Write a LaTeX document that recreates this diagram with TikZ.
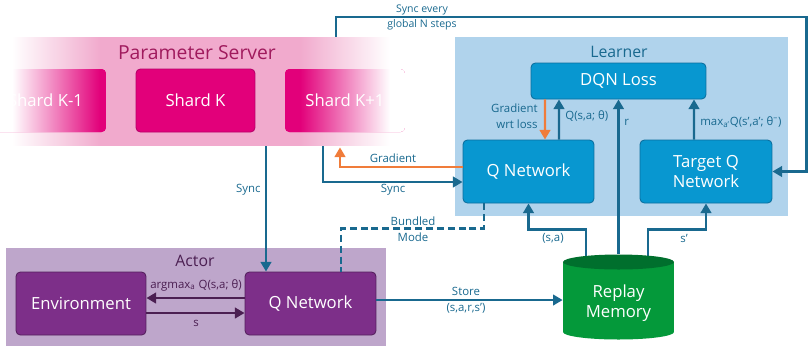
\documentclass[tikz,border=0pt]{standalone}
\usepackage{fontspec}
\setmainfont{Open Sans}
\usetikzlibrary{arrows.meta,calc}

\definecolor{psband}{HTML}{F1AACD}
\definecolor{psshard}{HTML}{E2007A}
\definecolor{psline}{HTML}{B8006A}
\definecolor{pstext}{HTML}{A01A5D}
\definecolor{lrnbg}{HTML}{B0D3EC}
\definecolor{lrnblue}{HTML}{0897D0}
\definecolor{lrnline}{HTML}{0B6F9F}
\definecolor{wireblue}{HTML}{19698F}
\definecolor{gradorange}{HTML}{F07C3A}
\definecolor{actbg}{HTML}{BEA6CB}
\definecolor{actpurple}{HTML}{7D2F89}
\definecolor{actline}{HTML}{55205E}
\definecolor{actdark}{HTML}{4B1F52}
\definecolor{memgreen}{HTML}{04993A}
\definecolor{memtop}{HTML}{006F2D}

% the server band and its outer shards wash out to white at both ends
\pgfdeclarehorizontalshading{bandfade}{100bp}{color(0bp)=(white); color(26.5bp)=(white);
  color(37.8bp)=(psband); color(63.3bp)=(psband); color(74.7bp)=(white); color(100bp)=(white)}
\pgfdeclarehorizontalshading{shardfadein}{100bp}{color(0bp)=(white); color(36.2bp)=(white);
  color(72.5bp)=(psshard); color(100bp)=(psshard)}
\pgfdeclarehorizontalshading{shardfadeout}{100bp}{color(0bp)=(psshard); color(31.25bp)=(psshard);
  color(68.75bp)=(white); color(100bp)=(white)}

\tikzset{
  >={Triangle[length=5.5pt,width=6pt]},
  box/.style={rectangle, rounded corners=2.5pt, text=white, minimum height=1.26cm,
    align=center, line width=0.5pt, font=\fontsize{9.5}{11}\selectfont},
  shard/.style={box, fill=psshard, draw=psline, minimum width=2.4cm},
  netbox/.style={box, fill=lrnblue, draw=lrnline, minimum width=2.62cm},
  purplebox/.style={box, fill=actpurple, draw=actline, minimum width=2.62cm},
  title/.style={inner sep=0pt, font=\fontsize{9}{11}\selectfont},
  wire/.style={draw=wireblue, line width=1.4pt},
  grad/.style={draw=gradorange, line width=1.4pt},
  actwire/.style={draw=actdark, line width=1.4pt},
  bundled/.style={dash pattern=on 4pt off 2.2pt},
  lbl/.style={inner sep=0pt, text=wireblue, align=center, font=\fontsize{6.5}{9}\selectfont}
}

\begin{document}
\begin{tikzpicture}[x=0.02cm, y=-0.02cm]
  \useasboundingbox (0,0) rectangle (808,346);

  % learner and actor areas
  \fill[lrnbg] (455,37) rectangle (788,216);
  \fill[actbg] (6,248) rectangle (386,346);

  % parameter server with its shards
  \node[shade, shading=bandfade, inner sep=0pt, minimum width=7.84cm, minimum height=2.18cm] (ps) at (196,91.5) {};
  \node[title, text=pstext, font=\fontsize{11}{13}\selectfont] (pstitle) at (197,53) {Parameter Server};
  \node[shard, draw=none, shade, shading=shardfadein, minimum width=2.42cm] (shardA) at (45.5,100.5) {Shard K-1};
  \node[shard, minimum width=2.38cm] (shardB) at (195.5,100.5) {Shard K};
  \node[shard, draw=none, shade, shading=shardfadeout] (shardC) at (345,100.5) {Shard K+1};

  % learner
  \node[title, text=wireblue] (lrntitle) at (619,52) {Learner};
  \node[netbox, minimum width=3.5cm, minimum height=0.72cm] (dqn) at (618.5,81) {DQN Loss};
  \node[netbox] (qlearn) at (528.5,171.5) {Q Network};
  \node[netbox, minimum width=2.64cm] (target) at (706,171.5) {Target Q\\Network};

  % actor
  \node[title, text=actdark] (acttitle) at (195,261) {Actor};
  \node[purplebox, minimum width=2.6cm] (env) at (81,303.5) {Environment};
  \node[purplebox] (qact) at (310.5,303.5) {Q Network};

  % replay memory (cylinder drawn later over the line ends)
  \node[inner sep=0pt, minimum width=2.22cm, minimum height=1.72cm] (mem) at (618.5,297) {};

  % server <-> learner
  \draw[wire,->] ($(ps.north)+(140,0)$) |- ($(target.east)+(34,-154.5)$) |- (target.east);
  \draw[wire,->] ($(ps.south)+(127,0)$) |- ($(qlearn.west)+(0,10.5)$);
  \draw[grad,->] ($(qlearn.west)+(0,-4.5)$) -| ($(ps.south)+(144,1)$);
  % server -> actor, and bundled mode
  \draw[wire,->] ($(ps.south)+(70,0)$) -- ($(qact.north)+(-44.5,0)$);
  \draw[wire,bundled] ($(qlearn.south)+(-44.5,0)$) |- ($(qact.north)+(30.5,-43)$) -- ($(qact.north)+(30.5,0)$);

  % inside the learner
  \draw[grad,->] ($(dqn.south)+(-73.5,0)$) -- ($(qlearn.north)+(16.5,0)$);
  \draw[wire,->] ($(qlearn.north)+(30.5,0)$) -- ($(dqn.south)+(-59.5,0)$);
  \draw[wire,->] (mem.north) -- (dqn.south);
  \draw[wire,->] ($(target.north)+(-12,0)$) -- ($(dqn.south)+(75.5,0)$);
  \draw[wire,->] ($(mem.north)+(-32.5,10)$) |- ($(qlearn.south)+(0,26)$) -- (qlearn.south);
  \draw[wire,->] ($(mem.north)+(29.5,10)$) |- ($(target.south)+(0,26)$) -- (target.south);

  % actor -> memory, actor <-> environment
  \draw[wire,->] ($(qact.east)+(0,-3.5)$) -- ($(mem.west)+(0,3)$);
  \draw[actwire,->] ($(qact.west)+(0,-5.5)$) -- ($(env.east)+(0,-5.5)$);
  \draw[actwire,->] ($(env.east)+(0,9.5)$) -- ($(qact.west)+(0,9.5)$);

  % the cylinder
  \fill[memgreen] (563,262) rectangle (674,332);
  \fill[memgreen] (618.5,332) ellipse [x radius=1.11cm, y radius=0.15cm];
  \fill[memtop] (618.5,262) ellipse [x radius=1.11cm, y radius=0.15cm];
  \node[box, minimum height=0pt, inner sep=0pt, font=\fontsize{9.5}{11.3}\selectfont] (memtxt) at (618.5,303) {Replay\\Memory};

  % labels
  \node[lbl, font=\fontsize{6}{8.5}\selectfont] (lnsteps) at (422,17) {Sync every\\global N steps};
  \node[lbl, anchor=east] (lsyncact) at (261,190) {Sync};
  \node[lbl] (lsynclrn) at (393,190) {Sync};
  \node[lbl] (lgrad) at (393,158) {Gradient};
  \node[lbl] (lbundled) at (413,229) {Bundled\\Mode};
  \node[lbl, align=right, anchor=east] (lgradloss) at (538,116) {Gradient\\wrt loss};
  \node[lbl, anchor=west] (lqsa) at (565,116) {Q(s,a; θ)};
  \node[lbl, anchor=west] (lr) at (624,122) {r};
  \node[lbl, anchor=west] (lmax) at (700,122) {max\textsubscript{a’}Q(s’,a’; θ\textsuperscript{–})};
  \node[lbl] (lsa) at (553,238) {(s,a)};
  \node[lbl] (lsp) at (684,238) {s’};
  \node[lbl] (lstore) at (466,291) {Store};
  \node[lbl] (ltuple) at (466,308) {(s,a,r,s’)};
  \node[lbl, text=actdark] (largmax) at (196,285) {argmax\textsubscript{a} Q(s,a; θ)};
  \node[lbl, text=actdark] (ls) at (196,323) {s};
\end{tikzpicture}
\end{document}
